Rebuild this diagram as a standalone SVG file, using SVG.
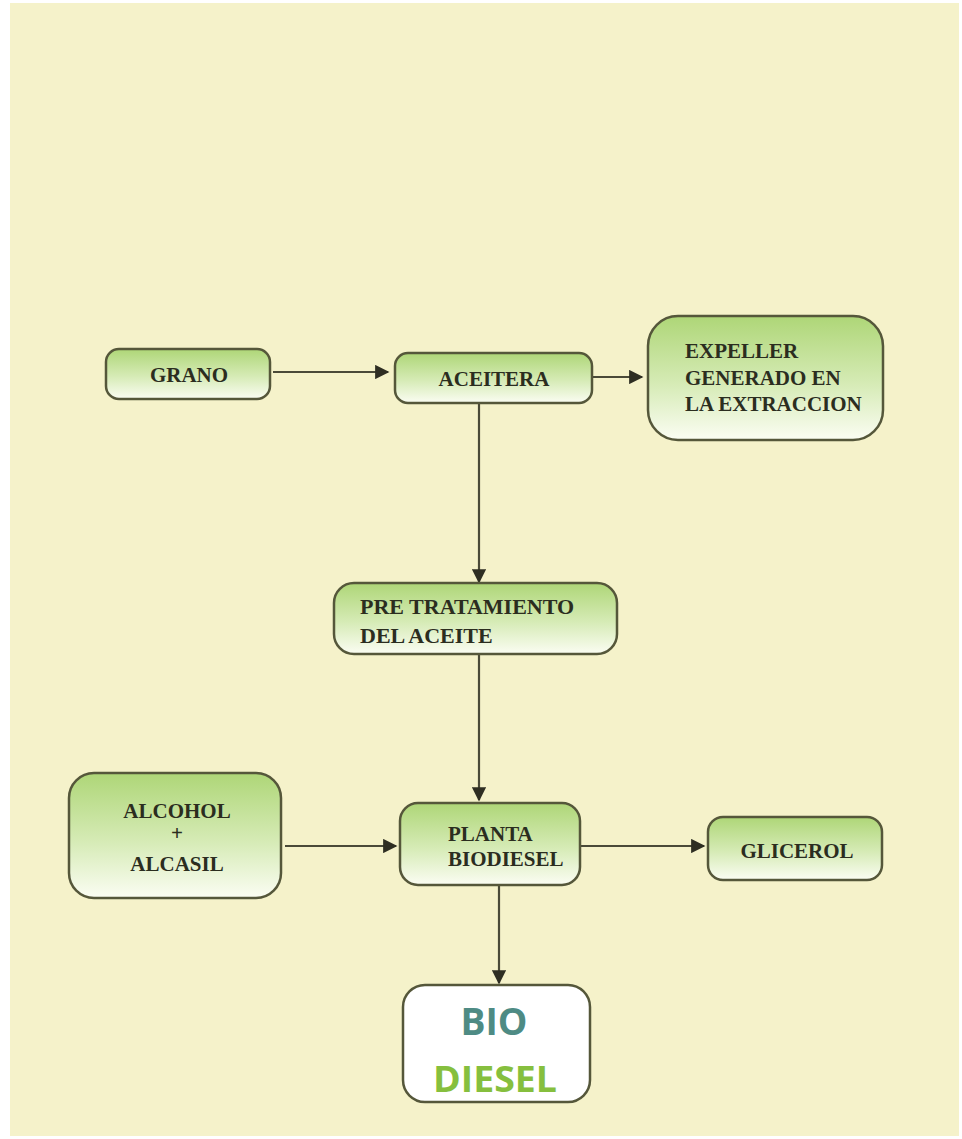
<svg xmlns="http://www.w3.org/2000/svg" width="962" height="1139" viewBox="0 0 962 1139">
<defs>
<linearGradient id="g" x1="0" y1="0" x2="0" y2="1">
<stop offset="0" stop-color="#aed677"/>
<stop offset="0.55" stop-color="#d6ebb6"/>
<stop offset="1" stop-color="#fbfdf3"/>
</linearGradient>
<marker id="ah" viewBox="0 0 10 10" refX="9" refY="5" markerWidth="7" markerHeight="6.5" markerUnits="strokeWidth" orient="auto">
<path d="M0,0 L10,5 L0,10 z" fill="#2e2e22"/>
</marker>
<style>
.box{fill:url(#g);stroke:#55573a;stroke-width:2.5}
.t{font-family:"Liberation Serif","Times New Roman",serif;font-weight:bold;font-size:21px;fill:#2b2d1f}
.c{text-anchor:middle}
.con line{stroke:#4a4a38;stroke-width:2.2;marker-end:url(#ah)}
</style>
</defs>
<rect x="0" y="0" width="962" height="1139" fill="#ffffff"/>
<rect x="10" y="3" width="949" height="1133" fill="#f5f2ca"/>

<g class="con">
<line x1="273" y1="372" x2="388" y2="372"/>
<line x1="592" y1="377" x2="642" y2="377"/>
<line x1="479" y1="403" x2="479" y2="582"/>
<line x1="479" y1="654" x2="479" y2="800"/>
<line x1="285" y1="846" x2="396" y2="846"/>
<line x1="580" y1="846" x2="704" y2="846"/>
<line x1="499" y1="885" x2="499" y2="983"/>
</g>

<g id="grano">
<rect class="box" x="106" y="349" width="164" height="50" rx="13"/>
<text class="t c" x="189" y="382">GRANO</text>
</g>
<g id="aceitera">
<rect class="box" x="395" y="353" width="197" height="50" rx="13"/>
<text class="t c" x="494" y="386">ACEITERA</text>
</g>
<g id="expeller">
<rect class="box" x="648" y="316" width="235" height="124" rx="30"/>
<text class="t" x="685" y="358">EXPELLER</text>
<text class="t" x="685" y="385">GENERADO EN</text>
<text class="t" x="685" y="411">LA EXTRACCION</text>
</g>
<g id="pretratamiento">
<rect class="box" x="334" y="583" width="283" height="71" rx="20"/>
<text class="t" x="360" y="614" style="font-size:22px">PRE TRATAMIENTO</text>
<text class="t" x="360" y="643" style="font-size:22px">DEL ACEITE</text>
</g>
<g id="alcohol">
<rect class="box" x="69" y="773" width="212" height="125" rx="25"/>
<text class="t c" x="177" y="818">ALCOHOL</text>
<text class="t c" x="177" y="840">+</text>
<text class="t c" x="177" y="871">ALCASIL</text>
</g>
<g id="planta">
<rect class="box" x="400" y="803" width="180" height="82" rx="18"/>
<text class="t" x="448" y="841">PLANTA</text>
<text class="t" x="448" y="866">BIODIESEL</text>
</g>
<g id="glicerol">
<rect class="box" x="708" y="817" width="174" height="63" rx="15"/>
<text class="t c" x="797" y="858">GLICEROL</text>
</g>
<g id="biodiesel">
<rect x="403" y="985" width="187" height="117" rx="22" fill="#ffffff" stroke="#55573a" stroke-width="2.5"/>
<text x="494" y="1035" text-anchor="middle" font-family="'Open Sans','DejaVu Sans',sans-serif" font-weight="bold" font-size="37" fill="#4e8b84" textLength="67" lengthAdjust="spacingAndGlyphs">BIO</text>
<text x="495" y="1092" text-anchor="middle" font-family="'Open Sans','DejaVu Sans',sans-serif" font-weight="bold" font-size="35" fill="#86bf3e" textLength="124" lengthAdjust="spacingAndGlyphs">DIESEL</text>
</g>
</svg>
